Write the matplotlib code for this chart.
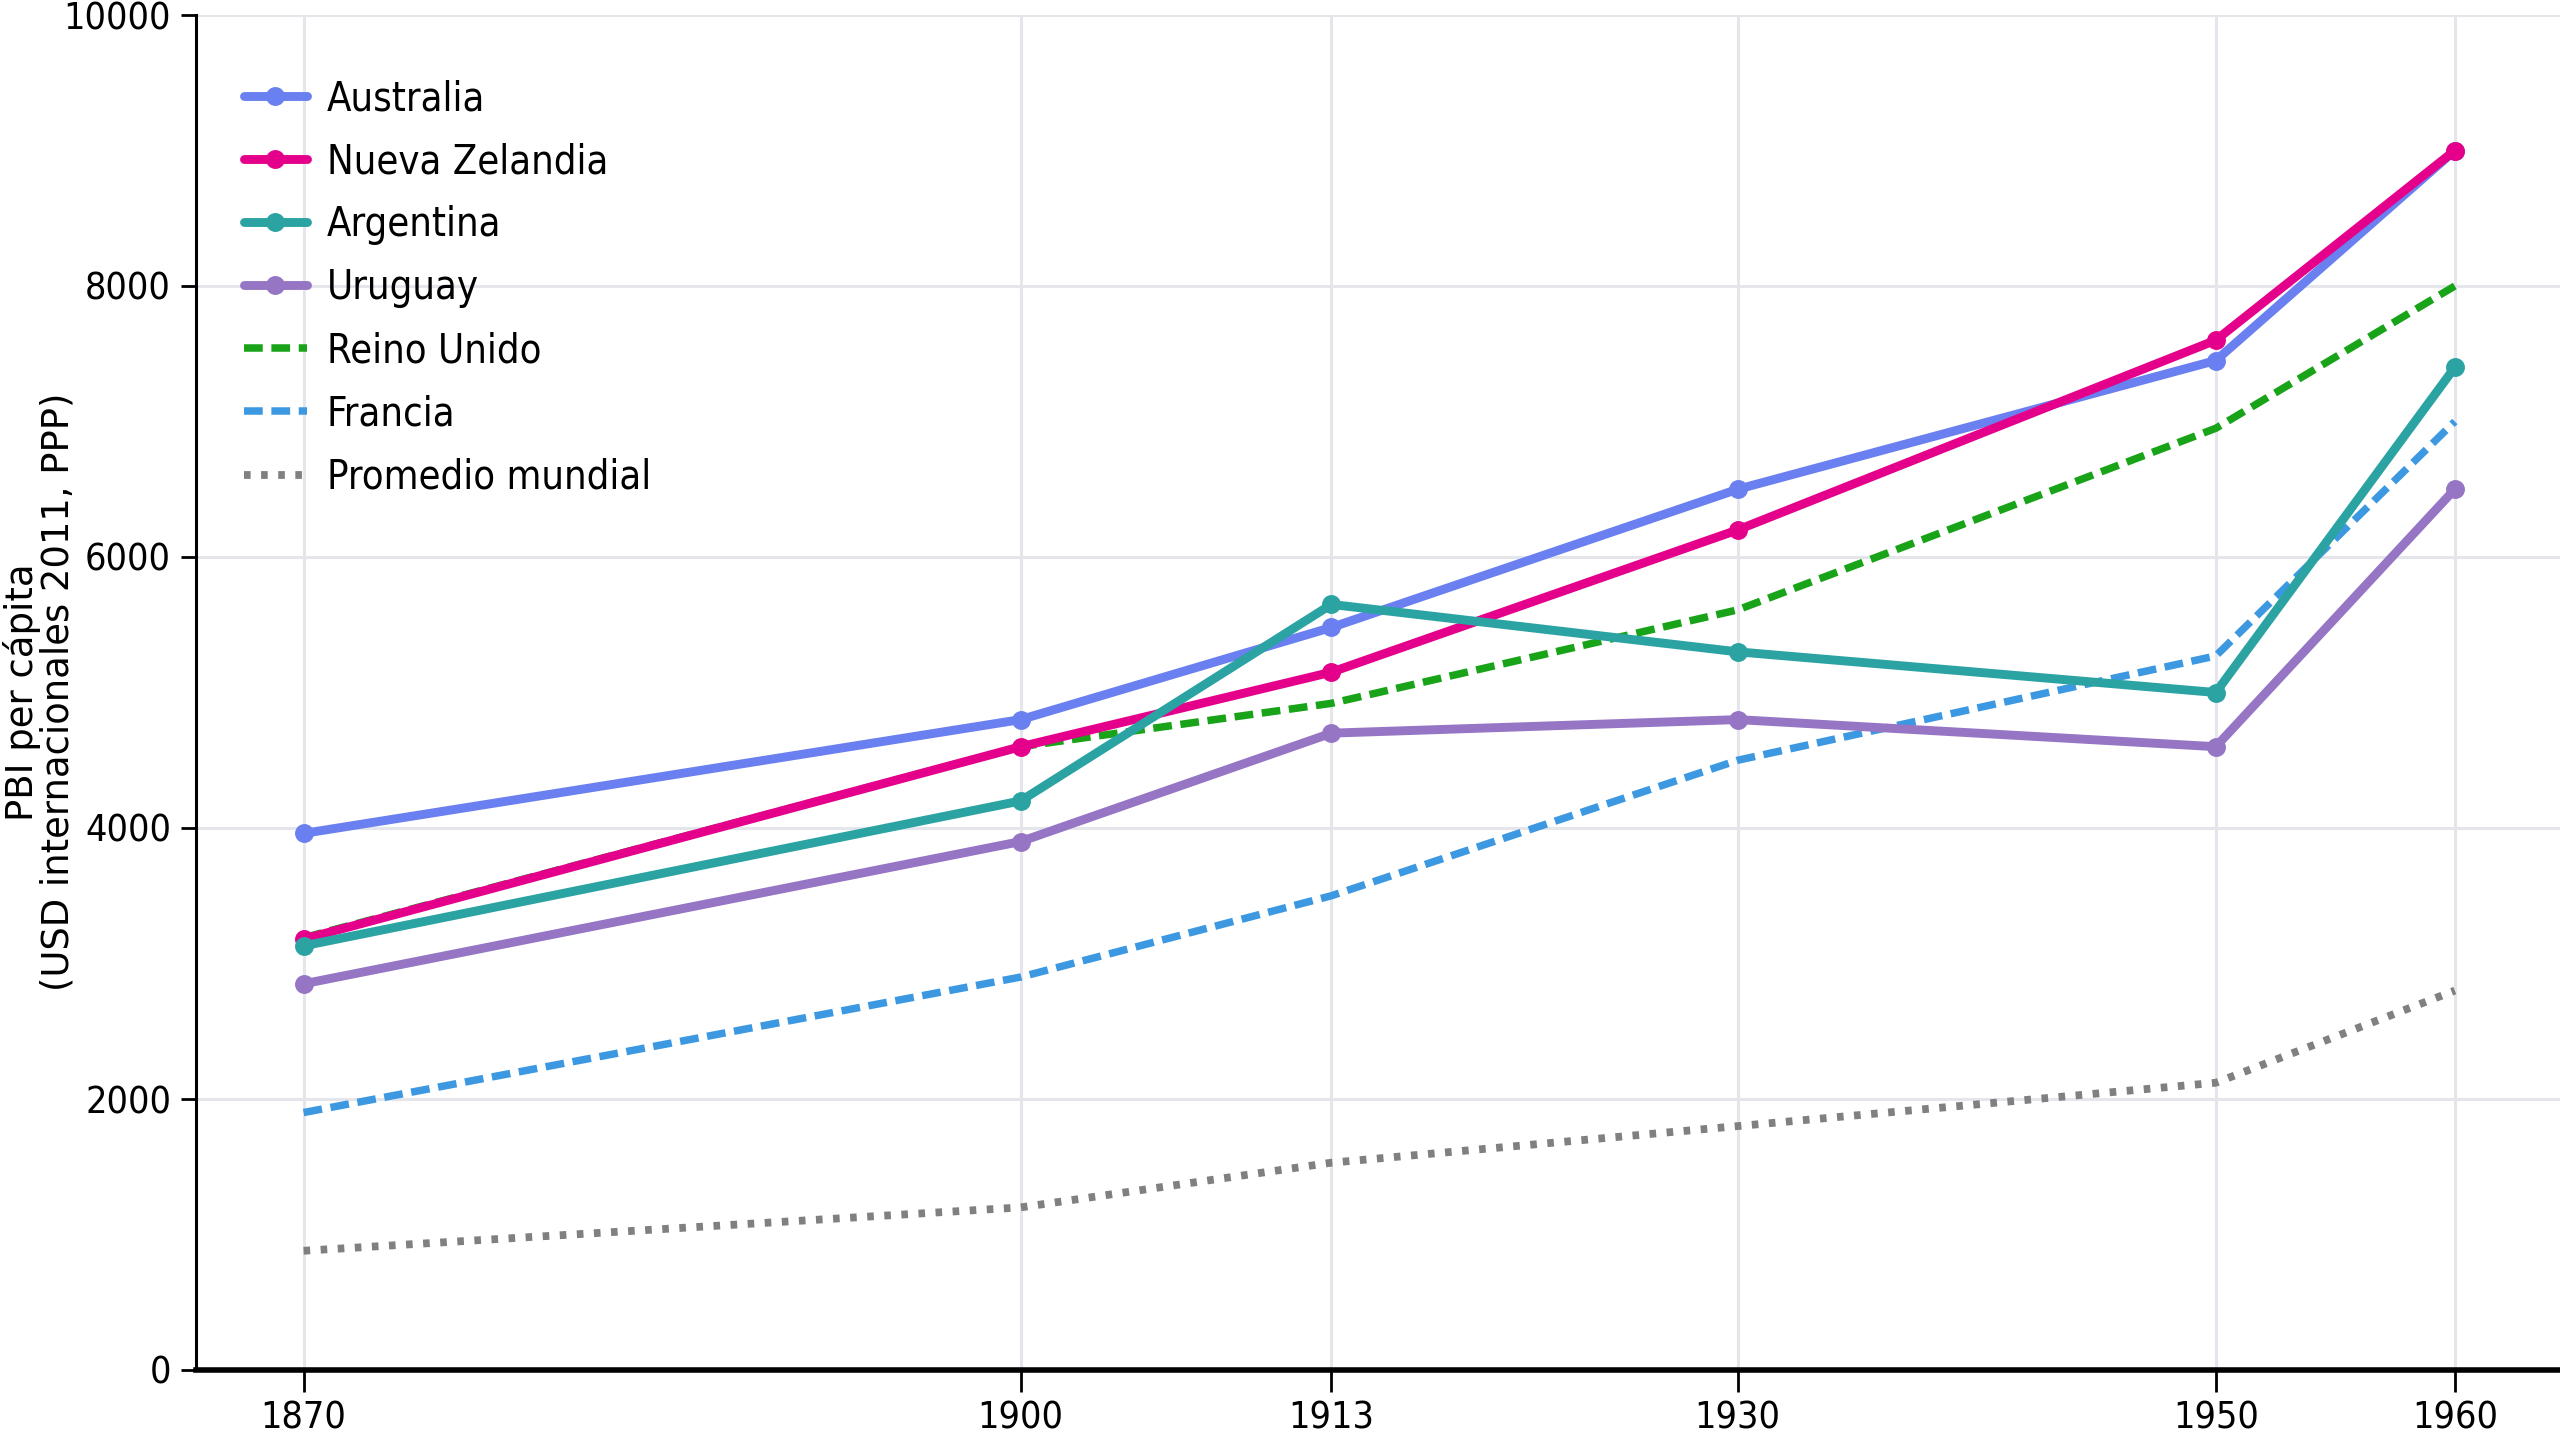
import matplotlib
matplotlib.use('Agg')  # sin pantalla
import matplotlib.pyplot as plt
from matplotlib import font_manager
from matplotlib.font_manager import FontProperties

# ========== datos ==========
anios = [1870, 1900, 1913, 1930, 1950, 1960]

australia = [3960, 4800, 5480, 6500, 7450, 9000]
nueva_zelandia = [3180, 4600, 5150, 6200, 7600, 9000]
argentina = [3130, 4200, 5650, 5300, 5000, 7400]
uruguay = [2850, 3900, 4700, 4800, 4600, 6500]
reino_unido = [3190, 4600, 4920, 5610, 6950, 8000]
francia = [1900, 2900, 3500, 4500, 5270, 7000]
promedio_mundial = [880, 1200, 1530, 1800, 2120, 2800]

y_ticks = [0, 2000, 4000, 6000, 8000, 10000]


def fuente_estrecha(size):
    """DejaVu Sans condensada si existe, si no Liberation Sans Narrow, si no DejaVu Sans"""
    for f in font_manager.fontManager.ttflist:
        if f.name == 'DejaVu Sans' and str(f.stretch) in ('condensed', '500') \
                and f.style == 'normal' and str(f.weight) in ('400', 'normal'):
            return FontProperties(fname=f.fname, size=size)
    nombres = {f.name for f in font_manager.fontManager.ttflist}
    if 'Liberation Sans Narrow' in nombres:
        return FontProperties(family='Liberation Sans Narrow', size=size)
    return FontProperties(family='DejaVu Sans', size=size)


fig = plt.figure(figsize=(12.8, 7.2), dpi=200)
ax = fig.add_axes([196 / 2560, 1 - 1370 / 1440, 1 - 196 / 2560, (1370 - 15) / 1440])

# series con marcadores
solidas = [
    ('Australia', australia, '#6a80f0'),
    ('Nueva Zelandia', nueva_zelandia, '#e5008b'),
    ('Argentina', argentina, '#2ca3a3'),
    ('Uruguay', uruguay, '#9575c4'),
]
for nombre, valores, color in solidas:
    ax.plot(anios, valores, color=color, linewidth=3.2, marker='o', markersize=5.8,
            label=nombre, solid_capstyle='round', zorder=3)

ax.plot(anios, reino_unido, color='#18a318', linewidth=2.7, linestyle=(0, (2.5, 1.15)),
        label='Reino Unido', zorder=2)
ax.plot(anios, francia, color='#3d98e2', linewidth=2.7, linestyle=(0, (2.5, 1.15)),
        label='Francia', zorder=2)
ax.plot(anios, promedio_mundial, color='#808080', linewidth=2.8, linestyle=(0, (0.85, 1.35)),
        label='Promedio mundial', zorder=2)

# ejes
ax.set_xlim(1865.5, 1964.4)
ax.set_ylim(0, 10000)
ax.set_xticks(anios)
ax.set_yticks(y_ticks)
ax.grid(True, color='#e5e6ec', linewidth=1.1, zorder=0)
ax.set_axisbelow(True)

for lado in ['top', 'right']:
    ax.spines[lado].set_visible(False)
ax.spines['left'].set_linewidth(1.1)
ax.spines['bottom'].set_linewidth(2.0)

ax.tick_params(axis='y', length=5.5, width=1.0, pad=3.5)
ax.tick_params(axis='x', length=8, width=1.0, pad=3)
fp_ticks = fuente_estrecha(13.5)
for lbl in ax.get_xticklabels() + ax.get_yticklabels():
    lbl.set_fontproperties(fp_ticks)

fig.text(0.001, 1 - 692 / 1440, 'PBI per cápita\n(USD internacionales 2011, PPP)',
         rotation=90, ha='left', va='center', multialignment='center',
         fontsize=13.3, family='DejaVu Sans', linespacing=0.95)

leg = ax.legend(loc='upper left', frameon=False, prop=fuente_estrecha(14.3),
                handlelength=1.6, handletextpad=0.5, labelspacing=0.58,
                borderaxespad=0.5, bbox_to_anchor=(0.005, 0.979))

fig.savefig('out.png', dpi=200)
